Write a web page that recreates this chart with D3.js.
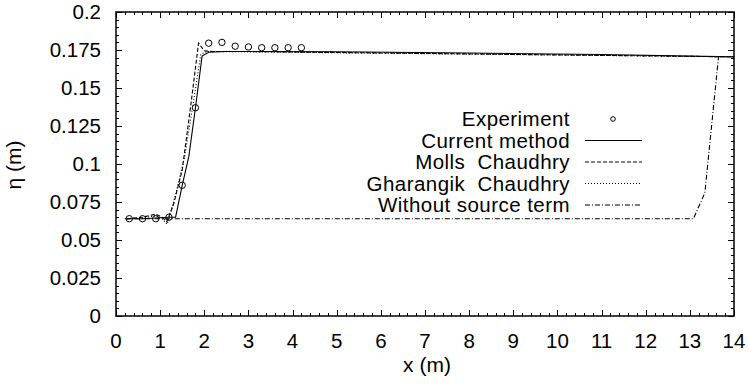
<!DOCTYPE html>
<html>
<head>
<meta charset="utf-8">
<script src="https://cdn.jsdelivr.net/npm/d3@7"></script>
<style>
  body { margin: 0; background: #fff; }
  svg text { font-family: "Liberation Sans", Arial, sans-serif; fill: #000; white-space: pre; }
</style>
</head>
<body>
<svg id="chart" width="749" height="384"></svg>
<script>
var expX = [0.3, 0.6, 0.9, 1.2, 1.5, 1.8, 2.1, 2.4, 2.7, 3.0, 3.3, 3.6, 3.9, 4.2];
var expY = [0.064, 0.064, 0.064, 0.065, 0.086, 0.137, 0.1795, 0.18, 0.1775, 0.177, 0.1765, 0.1765, 0.1765, 0.1765];

var currentX = [0.25, 0.6, 0.9, 1.2, 1.35, 1.5, 1.65, 1.8, 1.95, 2.1, 2.5, 3, 5, 8, 11, 14];
var currentY = [0.064, 0.064, 0.0645, 0.065, 0.065, 0.086, 0.105, 0.137, 0.171, 0.1735, 0.174, 0.174, 0.1738, 0.173, 0.172, 0.1705];

var mollsX = [0.25, 0.6, 0.9, 1.05, 1.15, 1.3, 1.5, 1.7, 1.87, 2.0, 2.2, 3, 14];
var mollsY = [0.064, 0.065, 0.067, 0.065, 0.062, 0.073, 0.096, 0.14, 0.1795, 0.1745, 0.174, 0.174, 0.1705];

var gharX = [0.25, 0.6, 0.9, 1.05, 1.16, 1.35, 1.55, 1.75, 1.92, 2.05, 2.3, 14];
var gharY = [0.064, 0.0645, 0.066, 0.064, 0.0603, 0.08, 0.104, 0.14, 0.172, 0.174, 0.174, 0.1705];

var noSrcX = [0.2, 13.08, 13.34, 13.65];
var noSrcY = [0.064, 0.064, 0.081, 0.1706];

var xTicks = d3.range(0, 15, 1);
var yTicks = [0, 0.025, 0.05, 0.075, 0.1, 0.125, 0.15, 0.175, 0.2];
var yTickLabels = ["0", "0.025", "0.05", "0.075", "0.1", "0.125", "0.15", "0.175", "0.2"];

var legendNames = ["Experiment", "Current method", "Molls  Chaudhry", "Gharangik  Chaudhry", "Without source term"];

(function(){
  var left = 116, right = 734, top = 12, bottom = 316;

  var svg = d3.select("#chart");
  var x = d3.scaleLinear().domain([0, 14]).range([left, right]);
  var y = d3.scaleLinear().domain([0, 0.2]).range([bottom, top]);

  // inward ticks on all four sides (gnuplot style)
  var g = svg.append("g").attr("stroke", "#000").attr("stroke-width", 1);
  d3.range(0, 14.01, 0.2).forEach(function(v){
    var major = Math.abs(v - Math.round(v)) < 1e-6, len = major ? 6 : 3;
    var px = Math.round(x(v)) + 0.5;
    g.append("line").attr("x1", px).attr("x2", px).attr("y1", bottom).attr("y2", bottom - len);
    g.append("line").attr("x1", px).attr("x2", px).attr("y1", top).attr("y2", top + len);
  });
  d3.range(0, 0.2001, 0.005).forEach(function(v){
    var major = Math.abs(v / 0.025 - Math.round(v / 0.025)) < 1e-6, len = major ? 6 : 3;
    var py = Math.round(y(v)) + 0.5;
    g.append("line").attr("y1", py).attr("y2", py).attr("x1", left).attr("x2", left + len);
    g.append("line").attr("y1", py).attr("y2", py).attr("x1", right).attr("x2", right - len);
  });

  svg.append("rect").attr("x", left).attr("y", top)
    .attr("width", right - left).attr("height", bottom - top)
    .attr("fill", "none").attr("stroke", "#000").attr("stroke-width", 1.5);

  // tick labels
  svg.selectAll("text.xt").data(xTicks).enter().append("text")
    .attr("class", "xt").attr("x", function(d){ return x(d); }).attr("y", bottom + 32)
    .attr("text-anchor", "middle").attr("font-size", 20.5).text(function(d){ return d; });
  svg.selectAll("text.yt").data(yTicks).enter().append("text")
    .attr("class", "yt").attr("x", left - 15).attr("y", function(d){ return y(d) + 7; })
    .attr("text-anchor", "end").attr("font-size", 20.5).text(function(d, i){ return yTickLabels[i]; });

  svg.append("text").attr("x", 427).attr("y", 372).attr("text-anchor", "middle")
    .attr("font-size", 21).text("x (m)");
  svg.append("text").attr("transform", "translate(21,165) rotate(-90)")
    .attr("text-anchor", "middle").attr("font-size", 21).text("η (m)");

  var line = d3.line().x(function(d){ return x(d[0]); }).y(function(d){ return y(d[1]); });
  function pairs(xs, ys){ return xs.map(function(v, i){ return [v, ys[i]]; }); }

  var dashes = [null, null, "4,2", "1,2", "5,2,1,2"];
  var series = [null, pairs(currentX, currentY), pairs(mollsX, mollsY), pairs(gharX, gharY), pairs(noSrcX, noSrcY)];

  for (var i = 1; i < series.length; i++) {
    svg.append("path").datum(series[i]).attr("d", line)
      .attr("fill", "none").attr("stroke", "#000").attr("stroke-width", 1.1)
      .attr("stroke-dasharray", dashes[i]);
  }

  svg.selectAll("circle.exp").data(pairs(expX, expY)).enter().append("circle")
    .attr("class", "exp").attr("cx", function(d){ return x(d[0]); }).attr("cy", function(d){ return y(d[1]); })
    .attr("r", 3.2).attr("fill", "none").attr("stroke", "#000").attr("stroke-width", 1);

  // legend
  var legY0 = 126, legStep = 21.5;
  legendNames.forEach(function(name, i){
    var ly = legY0 + i * legStep;
    svg.append("text").attr("x", 570).attr("y", ly).attr("text-anchor", "end")
      .attr("font-size", 20.5).attr("letter-spacing", 0.45).text(name);
    if (i === 0) {
      svg.append("circle").attr("cx", 613).attr("cy", ly - 7).attr("r", 2.3)
        .attr("fill", "none").attr("stroke", "#000").attr("stroke-width", 1);
    } else {
      svg.append("line").attr("x1", 585).attr("x2", 642).attr("y1", ly - 7).attr("y2", ly - 7)
        .attr("stroke", "#000").attr("stroke-width", 1.1).attr("stroke-dasharray", dashes[i]);
    }
  });
})();
</script>
</body>
</html>
